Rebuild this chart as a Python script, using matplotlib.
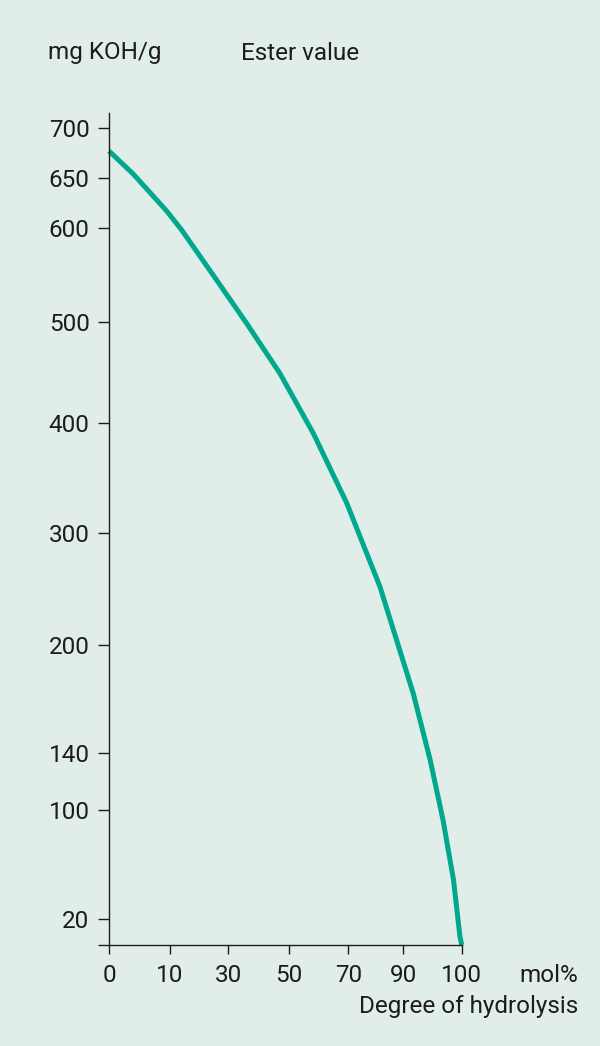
import numpy as np
import matplotlib
matplotlib.use("Agg")
import matplotlib.pyplot as plt

plt.rcParams['font.family'] = ['Roboto', 'DejaVu Sans']

# curve: degree of hydrolysis (mol%) vs ester value (mg KOH/g)
hydrolysis = [0, 4.0, 9.5, 14.1, 26.1, 36.1, 47.0, 58.2, 69.5, 81.5, 91.7,
              94.6, 96.8, 98.6, 99.7, 100]
ester_value = [677, 653.7, 617.1, 598.2, 544.6, 498.4, 449.2, 390.9, 327.1, 252.1,
               173.2, 135.3, 92.7, 48.8, 6.5, 0]

x_ticks = [0, 10, 30, 50, 70, 90, 100]
y_ticks = [20, 100, 140, 200, 300, 400, 500, 600, 650, 700]

# the printed axes are not linear: anchor values and where they sit (px)
x_anchor_val = [0, 10, 30, 50, 70, 90, 100]
x_anchor_pos = [0, 60.7, 119, 180, 239.3, 294.3, 352.7]
y_anchor_val = [0, 20, 100, 140, 200, 300, 400, 500, 600, 650, 700, 715]
y_anchor_pos = [0, 25.7, 135, 191.7, 300, 412, 521.7, 623.3, 716.7, 767.3, 816.7, 831.7]

bg = '#e1ede9'
teal = '#00a88e'
ink = '#1c1c1c'

fig = plt.figure(figsize=(6, 10.46), dpi=100, facecolor=bg)
W, H = 600, 1046
ax = fig.add_axes([109 / W, 1 - 945 / H, (461.7 - 109) / W, (945 - 113.3) / H])
ax.set_facecolor(bg)

ax.set_xscale('function', functions=(lambda v: np.interp(v, x_anchor_val, x_anchor_pos),
                                     lambda p: np.interp(p, x_anchor_pos, x_anchor_val)))
ax.set_yscale('function', functions=(lambda v: np.interp(v, y_anchor_val, y_anchor_pos),
                                     lambda p: np.interp(p, y_anchor_pos, y_anchor_val)))

ax.plot(hydrolysis, ester_value, color=teal, lw=3.6, solid_capstyle='butt',
        solid_joinstyle='round', clip_on=False)

ax.set_xlim(0, 100)
ax.set_ylim(0, 715)

ax.set_xticks(x_ticks)
ax.set_xticklabels([str(t) for t in x_ticks])
ax.set_yticks([0] + y_ticks)
ax.set_yticklabels([''] + [str(t) for t in y_ticks])
ax.minorticks_off()

for s in ['top', 'right']:
    ax.spines[s].set_visible(False)
for s in ['left', 'bottom']:
    ax.spines[s].set_color(ink)
    ax.spines[s].set_linewidth(1.0)

ax.tick_params(axis='y', length=8, width=1.0, color=ink, pad=6, labelsize=17.5, labelcolor=ink)
ax.tick_params(axis='x', length=6.5, width=1.0, color=ink, pad=7, labelsize=17.5, labelcolor=ink)

txt = dict(fontsize=17.5, color=ink, va='center')
fig.text(48 / W, 1 - 53 / H, 'mg KOH/g', ha='left', **txt)
fig.text(241 / W, 1 - 53 / H, 'Ester value', ha='left', **txt)
fig.text(578 / W, 1 - 975 / H, 'mol%', ha='right', **txt)
fig.text(578 / W, 1 - 1007 / H, 'Degree of hydrolysis', ha='right', **txt)

fig.savefig('out.png', dpi=100, facecolor=bg)
